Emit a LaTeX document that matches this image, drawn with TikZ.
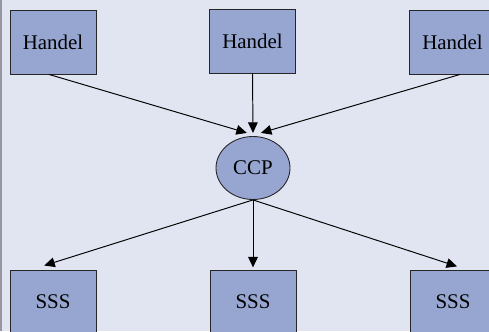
\documentclass[tikz,border=0pt]{standalone}
\usepackage{fontspec}
\setmainfont{Liberation Serif}
\usetikzlibrary{positioning,shapes.geometric,calc,arrows.meta}
\usepackage{xcolor}
\definecolor{panelbg}{RGB}{225,229,241}
\definecolor{boxfill}{RGB}{150,166,209}
\definecolor{paneledge}{RGB}{150,150,160}

\begin{document}
\begin{tikzpicture}[x=0.02cm, y=-0.02cm]
    \tikzset{unit/.style={draw=black!85, fill=boxfill, line width=0.5pt,
                          minimum width=1.72cm, minimum height=1.28cm,
                          font=\fontsize{11.9}{14}\selectfont},
             hub/.style={ellipse, draw=black!85, fill=boxfill, line width=0.5pt,
                         minimum width=1.48cm, minimum height=1.26cm, inner sep=0pt,
                         font=\fontsize{11.9}{14}\selectfont},
             feed/.style={-{Triangle[length=6pt,width=5.5pt]}, line width=0.55pt}}
    % Panel
    \useasboundingbox (0,0) rectangle (489,331);
    \clip (0,0) rectangle (489,331);
    \fill[panelbg] (0,0) rectangle (489,331);
    \draw[paneledge, line width=1.2pt] (0.6,0) -- (0.6,331);
    % Handel row
    \node[unit] (h1) at (53,42)    {Handel};
    \node[unit] (h2) at (252.5,41) {Handel};
    \node[unit] (h3) at (452.5,42) {Handel};
    % Center
    \node[hub] (ccp) at (253,168) {CCP};
    % SSS row
    \node[unit] (s1) at (53,302)  {SSS};
    \node[unit] (s2) at (253,302) {SSS};
    \node[unit] (s3) at (453,302) {SSS};
    % Arrows in
    \draw[feed] ([xshift=-2.3pt]h1.south) -- ([xshift=-3.5pt,yshift=1.8pt]ccp.north);
    \draw[feed] (h2.south) -- ([yshift=1.8pt]ccp.north);
    \draw[feed] ([xshift=4.3pt]h3.south) -- ([xshift=4.5pt,yshift=1.8pt]ccp.north);
    % Arrows out
    \draw[feed] (ccp.south) -- ([xshift=-5pt,yshift=2.3pt]s1.north);
    \draw[feed] (ccp.south) -- ([yshift=1.2pt]s2.north);
    \draw[feed] (ccp.south) -- ([xshift=2.3pt,yshift=1.8pt]s3.north);
\end{tikzpicture}
\end{document}
